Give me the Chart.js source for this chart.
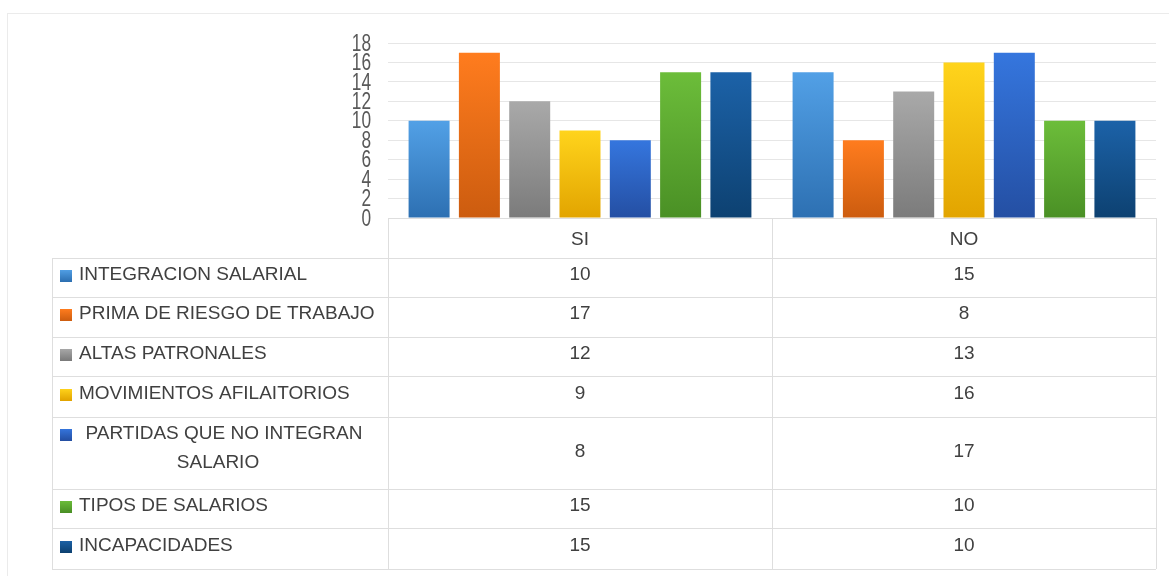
<!DOCTYPE html>
<html lang="es">
<head>
<meta charset="utf-8">
<title>Resultados SI / NO</title>
<script src="https://cdn.jsdelivr.net/npm/chart.js@4.4.1/dist/chart.umd.min.js"></script>
<style>
  html, body { margin: 0; padding: 0; background: #fff; }
  #wrap { position: relative; width: 1169px; height: 576px; overflow: hidden; }
  #frame { position: absolute; left: 7px; top: 13px; right: -2px; bottom: -2px;
           border-left: 1px solid #ebebeb; border-top: 1px solid #ebebeb; }
  #chartBox { position: absolute; left: 0; top: 0; width: 1169px; height: 576px; }
</style>
</head>
<body>
<div id="wrap">
  <div id="frame"></div>
  <div id="chartBox"><canvas id="resultsChart"></canvas></div>
</div>
<script>
// categories and series
const categories = ['SI', 'NO'];
const seriesNames = [
    'INTEGRACION SALARIAL',
    'PRIMA DE RIESGO DE TRABAJO',
    'ALTAS PATRONALES',
    'MOVIMIENTOS AFILAITORIOS',
    'PARTIDAS QUE NO INTEGRAN SALARIO',
    'TIPOS DE SALARIOS',
    'INCAPACIDADES'
];
const siValues = [10, 17, 12, 9, 8, 15, 15];
const noValues = [15, 8, 13, 16, 17, 10, 10];
const yTicks = [0, 2, 4, 6, 8, 10, 12, 14, 16, 18];

// top / bottom shade of each series
const seriesColors = [
    ['#52a0e6', '#2d70b2'],
    ['#ff7c1e', '#cc5c0f'],
    ['#a9a9a9', '#7b7b7b'],
    ['#ffd41c', '#e2a400'],
    ['#3576de', '#244fa3'],
    ['#6cbd3a', '#4a9025'],
    ['#1c62a8', '#0d4171']
];

// row borders of the data table under the plot
const tableRows = [258, 297, 337, 376, 417, 489, 528, 569];
const tableLeft = 52;
const textFont = '19px "Liberation Sans", Arial, sans-serif';
const textColor = '#404040';
const lineColor = '#dedede';

function barGradient(ctx, i) {
    const chart = ctx.chart;
    const area = chart.chartArea;
    if (!area || ctx.parsed === undefined) return seriesColors[i][0];
    const top = chart.scales.y.getPixelForValue(ctx.parsed.y);
    const g = chart.ctx.createLinearGradient(0, top, 0, area.bottom);
    g.addColorStop(0, seriesColors[i][0]);
    g.addColorStop(1, seriesColors[i][1]);
    return g;
}

// narrow, tall value labels on the left of the plot
const yLabels = {
    id: 'yLabels',
    afterDraw(chart) {
        const c = chart.ctx;
        const y = chart.scales.y;
        c.save();
        c.font = '24px "Liberation Sans", Arial, sans-serif';
        c.fillStyle = '#595959';
        c.textAlign = 'right';
        c.textBaseline = 'middle';
        yTicks.forEach(v => {
            c.save();
            c.translate(chart.chartArea.left - 17, y.getPixelForValue(v) + 1);
            c.scale(0.72, 1);
            c.fillText(String(v), 0, 0);
            c.restore();
        });
        c.restore();
    }
};

const dataTable = {
    id: 'dataTable',
    afterDraw(chart) {
        const c = chart.ctx;
        const x = chart.scales.x;
        const area = chart.chartArea;
        const left = area.left, right = area.right;
        const mid = (x.getPixelForValue(0) + x.getPixelForValue(1)) / 2;
        const colCenters = categories.map((_, i) => x.getPixelForValue(i));
        const bottom = tableRows[tableRows.length - 1];
        const px = v => Math.round(v) + 0.5;

        c.save();
        c.strokeStyle = lineColor;
        c.lineWidth = 1;
        c.beginPath();
        // header row
        c.moveTo(left, px(area.bottom)); c.lineTo(right, px(area.bottom));
        [left, mid, right].forEach(v => { c.moveTo(px(v), area.bottom); c.lineTo(px(v), bottom); });
        c.moveTo(px(tableLeft), tableRows[0]); c.lineTo(px(tableLeft), bottom);
        tableRows.forEach(r => { c.moveTo(tableLeft, px(r)); c.lineTo(right, px(r)); });
        c.stroke();

        c.font = textFont;
        c.fillStyle = textColor;
        c.textBaseline = 'middle';
        c.textAlign = 'center';
        const headY = (area.bottom + tableRows[0]) / 2 + 2;
        categories.forEach((cat, i) => c.fillText(cat, colCenters[i], headY));

        const labelMax = left - 82;
        seriesNames.forEach((name, i) => {
            const y0 = tableRows[i], y1 = tableRows[i + 1];
            const lines = [];
            let cur = '';
            name.split(' ').forEach(w => {
                const test = cur ? cur + ' ' + w : w;
                if (c.measureText(test).width > labelMax && cur) { lines.push(cur); cur = w; }
                else cur = test;
            });
            lines.push(cur);

            const wrapped = lines.length > 1;
            const cy = (y0 + y1) / 2 - (wrapped ? 1 : 3);
            const lh = 29;
            const firstY = wrapped ? cy - (lines.length - 1) * lh / 2 - 4 : cy;
            // legend key
            const kg = c.createLinearGradient(0, firstY - 5, 0, firstY + 7);
            kg.addColorStop(0, seriesColors[i][0]);
            kg.addColorStop(1, seriesColors[i][1]);
            c.fillStyle = kg;
            c.fillRect(60, Math.round(firstY - 5), 12, 12);

            c.fillStyle = textColor;
            if (!wrapped) {
                c.textAlign = 'left';
                c.fillText(lines[0], 79, cy);
            } else {
                c.textAlign = 'center';
                lines.forEach((ln, k) => c.fillText(ln, k === 0 ? 224 : 218, firstY + k * lh));
            }
            c.textAlign = 'center';
            c.fillText(String(siValues[i]), colCenters[0], cy);
            c.fillText(String(noValues[i]), colCenters[1], cy);
        });
        c.restore();
    }
};

const ctx = document.getElementById('resultsChart');

const resultsChart = new Chart(ctx.getContext('2d'), {
    type: 'bar',
    data: {
        labels: categories,
        datasets: seriesNames.map((name, i) => ({
            label: name,
            data: [siValues[i], noValues[i]],
            backgroundColor: c => barGradient(c, i),
            borderWidth: 0,
            categoryPercentage: 0.917,
            barPercentage: 0.815
        }))
    },
    options: {
        responsive: true,
        maintainAspectRatio: false,
        animation: false,
        layout: {
            padding: { left: 348, right: 13, top: 43, bottom: 358 }
        },
        scales: {
            x: {
                display: false
            },
            y: {
                min: 0,
                max: 18,
                afterFit: scale => { scale.width = 40; },
                afterBuildTicks: scale => { scale.ticks = yTicks.map(v => ({ value: v })); },
                border: { display: false },
                grid: {
                    color: '#e6e6e6',
                    drawTicks: false
                },
                ticks: {
                    display: false,
                    autoSkip: false
                }
            }
        },
        plugins: {
            legend: { display: false },
            tooltip: { enabled: false }
        }
    },
    plugins: [yLabels, dataTable]
});
</script>
</body>
</html>
